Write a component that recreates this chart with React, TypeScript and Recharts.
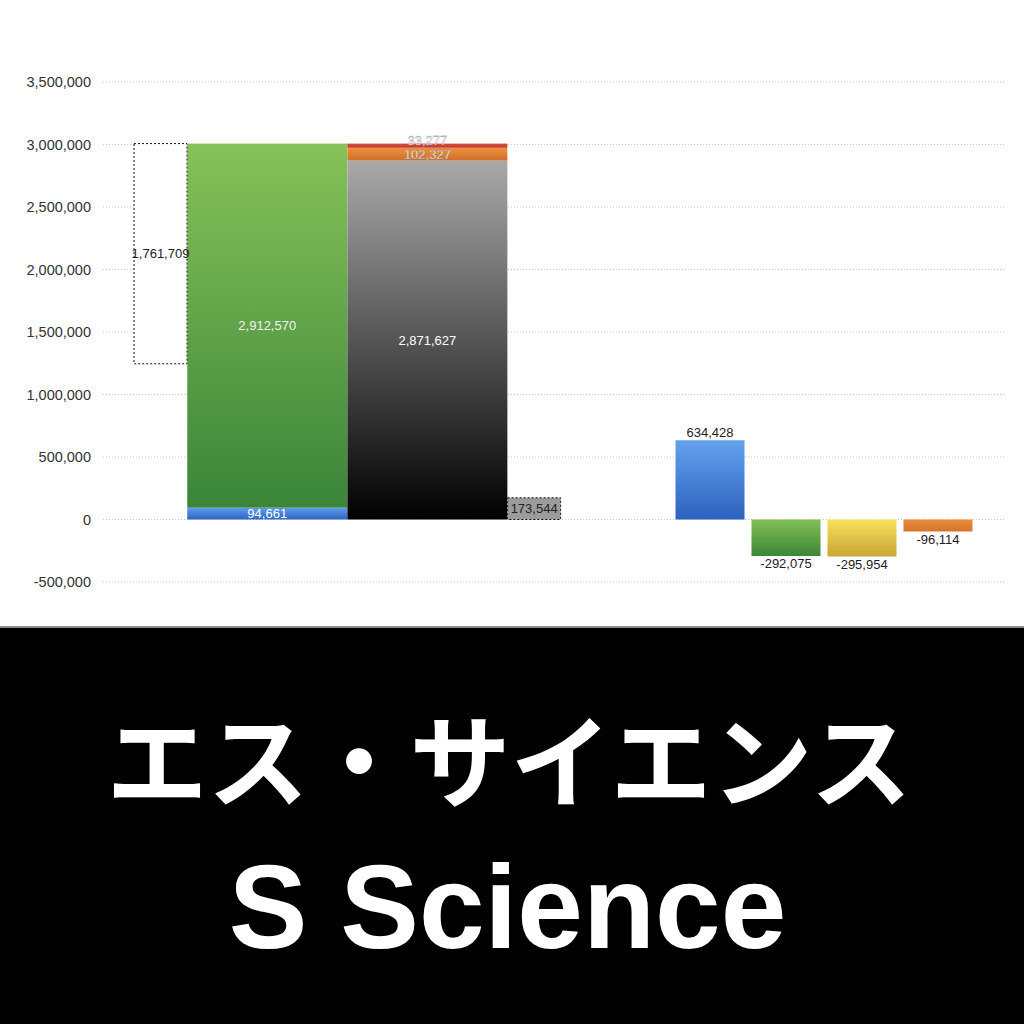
import { BarChart, Bar, XAxis, YAxis, CartesianGrid, LabelList, Cell } from "recharts";

// left block: revenue breakdown vs cost breakdown
const revenueParts = [94661, 2912570]; // blue, green
const costParts = [2871627, 102327, 33277]; // gray, orange, red
const boxValues = [1761709, 173544]; // dotted boxes (left, right)

// right block: changes
const changeNames = ["A", "B", "C", "D"];
const changeValues = [634428, -292075, -295954, -96114];

const yTicks = [-500000, 0, 500000, 1000000, 1500000, 2000000, 2500000, 3000000, 3500000];
const yDomain = [-500000, 3500000];

const revenueTotal = revenueParts[0] + revenueParts[1];

// one row per narrow slot; the wide bars sit in the middle of three slots
const leftData = [
  { slot: "box-l", base: revenueTotal - boxValues[0], box1: boxValues[0] },
  { slot: "rev-1" },
  { slot: "rev", blue: revenueParts[0], green: revenueParts[1] },
  { slot: "rev-3" },
  { slot: "cost-1" },
  { slot: "cost", gray: costParts[0], orange: costParts[1], red: costParts[2] },
  { slot: "cost-3" },
  { slot: "box-r", box2: boxValues[1] },
];

const changeData = changeNames.map((name, i) => ({ name, value: changeValues[i] }));
const changeFills = ["url(#cBlue)", "url(#cGreen)", "url(#cYellow)", "url(#cOrange)"];

const fmt = (v: any) => (typeof v === "number" ? v.toLocaleString("en-US") : "");

const WideBar = (props: any) => {
  const { x, y, width, height, fill } = props;
  if (!height) return <g />;
  // a hair wider so neighbouring wide bars meet without a seam
  return <rect x={x - width - 0.5} y={y} width={width * 3 + 1} height={height} fill={fill} />;
};

const grad = (id: string, top: string, bottom: string) => (
  <linearGradient id={id} x1="0" y1="0" x2="0" y2="1">
    <stop offset="0%" stopColor={top} />
    <stop offset="100%" stopColor={bottom} />
  </linearGradient>
);

const margin = { top: 82, right: 19, bottom: 44, left: 0 };
const labelSize = 13;
const outlined = { fill: "#fff", stroke: "#777", strokeWidth: 0.3, fontSize: labelSize };

export default function App() {
  return (
    <div
      style={{
        position: "absolute",
        left: 0,
        top: 0,
        width: 1024,
        height: 1024,
        background: "#fff",
        fontFamily: "'Liberation Sans', Arial, sans-serif",
        overflow: "hidden",
      }}
    >
      <div style={{ position: "absolute", left: 0, top: 0 }}>
        <BarChart width={1024} height={626} data={leftData} margin={margin} barCategoryGap={0} barGap={0}>
          <defs>
            {grad("gBlue", "#5f9ee9", "#2d64c2")}
            {grad("gGreen", "#87c258", "#3a8539")}
            {grad("gGray", "#a9a9a9", "#000000")}
            {grad("gOrange", "#ec913d", "#d06f2a")}
            {grad("gRed", "#d84a3c", "#c43a30")}
          </defs>
          <CartesianGrid vertical={false} stroke="#c4c4c4" strokeDasharray="1 2" />
          <YAxis
            width={103}
            domain={yDomain}
            ticks={yTicks}
            interval={0}
            axisLine={false}
            tickLine={false}
            tickMargin={6}
            tickFormatter={fmt}
            tick={{ fill: "#333", fontSize: 14.5 }}
          />
          <XAxis dataKey="slot" hide padding={{ left: 31, right: 444 }} />
          <Bar dataKey="base" stackId="s" fill="transparent" isAnimationActive={false} />
          <Bar dataKey="blue" stackId="s" fill="url(#gBlue)" shape={WideBar} isAnimationActive={false}>
            <LabelList dataKey="blue" position="center" formatter={fmt} fill="#fff" fontSize={labelSize} />
          </Bar>
          <Bar dataKey="green" stackId="s" fill="url(#gGreen)" shape={WideBar} isAnimationActive={false}>
            <LabelList dataKey="green" position="center" formatter={fmt} fill="#f2f2f2" fontSize={labelSize} />
          </Bar>
          <Bar dataKey="gray" stackId="s" fill="url(#gGray)" shape={WideBar} isAnimationActive={false}>
            <LabelList dataKey="gray" position="center" formatter={fmt} fill="#fff" fontSize={labelSize} />
          </Bar>
          <Bar dataKey="orange" stackId="s" fill="url(#gOrange)" shape={WideBar} isAnimationActive={false}>
            <LabelList dataKey="orange" position="center" formatter={fmt} {...outlined} />
          </Bar>
          <Bar dataKey="red" stackId="s" fill="url(#gRed)" shape={WideBar} isAnimationActive={false}>
            <LabelList dataKey="red" position="center" formatter={fmt} dy={-5} {...outlined} />
          </Bar>
          <Bar
            dataKey="box1"
            stackId="s"
            fill="#fff"
            stroke="#111"
            strokeDasharray="2 2"
            isAnimationActive={false}
          >
            <LabelList dataKey="box1" position="center" formatter={fmt} fill="#222" fontSize={labelSize} />
          </Bar>
          <Bar
            dataKey="box2"
            stackId="s"
            fill="#9c9c9c"
            stroke="#111"
            strokeDasharray="2 2"
            isAnimationActive={false}
          >
            <LabelList dataKey="box2" position="center" formatter={fmt} fill="#222" fontSize={labelSize} />
          </Bar>
        </BarChart>
      </div>

      <div style={{ position: "absolute", left: 0, top: 0 }}>
        <BarChart
          width={1024}
          height={626}
          data={changeData}
          margin={{ ...margin, left: 103 }}
          barCategoryGap={0}
        >
          <defs>
            {grad("cBlue", "#64a2ee", "#2c61bf")}
            {grad("cGreen", "#80c056", "#3b8638")}
            {grad("cYellow", "#f7e15b", "#c8a635")}
            {grad("cOrange", "#ea8c3b", "#d5742e")}
          </defs>
          <YAxis hide domain={yDomain} ticks={yTicks} />
          <XAxis dataKey="name" hide padding={{ left: 568.5, right: 29.5 }} />
          <Bar dataKey="value" barSize={69} isAnimationActive={false}>
            {changeData.map((d, i) => (
              <Cell key={d.name} fill={changeFills[i]} />
            ))}
            <LabelList dataKey="value" position="top" offset={3} formatter={fmt} fill="#222" fontSize={labelSize} />
          </Bar>
        </BarChart>
      </div>

      <div
        style={{
          position: "absolute",
          left: 0,
          top: 626,
          width: 1024,
          height: 398,
          boxSizing: "border-box",
          background: "#000",
          borderTop: "2px solid #8c8c8c",
        }}
      />
      <div
        style={{
          position: "absolute",
          left: 0,
          top: 706,
          width: 1018,
          textAlign: "center",
          color: "#fff",
          fontFamily: "'Noto Sans CJK JP', sans-serif",
          fontWeight: 700,
          fontSize: 101,
          lineHeight: "100px",
          whiteSpace: "nowrap",
        }}
      >
        エス・サイエンス
      </div>
      <div
        style={{
          position: "absolute",
          left: 0,
          top: 848,
          width: 1015,
          textAlign: "center",
          color: "#fff",
          fontFamily: "'Liberation Sans', Arial, sans-serif",
          fontWeight: 700,
          fontSize: 118,
          lineHeight: "118px",
          whiteSpace: "nowrap",
        }}
      >
        S Science
      </div>
    </div>
  );
}
